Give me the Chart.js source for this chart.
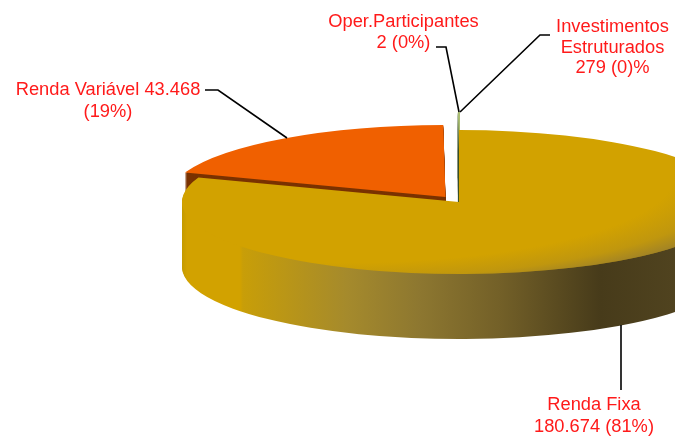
<!DOCTYPE html>
<html>
<head>
<meta charset="utf-8">
<style>
  html, body { margin: 0; padding: 0; background: #fff; overflow: hidden; }
  #wrap { position: relative; width: 675px; height: 437px; }
</style>
<script src="https://cdn.jsdelivr.net/npm/chart.js@4"></script>
</head>
<body>
<div id="wrap"><canvas id="pie" width="675" height="437"></canvas></div>
<script>
// --- DATA ---
const categories = ["Renda Fixa", "Renda Variável", "Oper.Participantes", "Investimentos Estruturados"];
const values = [180674, 43468, 2, 279];
const sliceColors = ["#d2a200", "#f06000", "#8c8c8c", "#a9bc72"];
const sideColors = ["#d2a200", "#7a3200", "#555555", "#3d5528"];
const labelLines = [
  ["Renda Fixa", "180.674 (81%)"],
  ["Renda Variável 43.468", "(19%)"],
  ["Oper.Participantes", "2 (0%)"],
  ["Investimentos", "Estruturados", "279 (0)%"]
];

// --- LAYOUT ---
const CX = 459, CY = 202, RADIUS = 277;
const SQUASH = 72 / 277; // top surface ellipse
const DEPTH = 65;
const explode = [[0, 0], [-13.5, -5], [0, -18], [1, -18]];
const labelPos = [[594, 405, 22], [108, 90, 22], [403.5, 22, 21], [612.5, 27, 20.5]];
const leaders = [
  [[621, 325], [621, 390]],
  [[205, 90], [218, 90], [287, 138]],
  [[436, 47], [446, 47], [459, 112]],
  [[460, 112], [540, 35], [550, 35]]
];

function sideGradient(ctx) {
  const g = ctx.createLinearGradient(182, 0, 675, 0);
  const stops = [[182, "#c49a00"], [187, "#d2a200"], [240, "#d2a200"], [243, "#c89e08"],
    [347, "#a58a2c"], [420, "#8d7730"], [500, "#736028"], [600, "#473b1a"], [675, "#50431f"]];
  stops.forEach(s => g.addColorStop((s[0] - 182) / 493, s[1]));
  return g;
}

function bevelGradient(ctx) {
  // soft shading on the lower right rim of the top surface
  const g = ctx.createRadialGradient(CX - 120, CY - 100, 0, CX - 120, CY - 100, 440);
  g.addColorStop(0, "rgba(120,105,70,0)");
  g.addColorStop(0.76, "rgba(120,105,70,0)");
  g.addColorStop(0.9, "rgba(120,105,70,0.2)");
  g.addColorStop(0.97, "rgba(120,105,70,0.47)");
  g.addColorStop(1, "rgba(120,105,70,0.6)");
  return g;
}

function drawArc(ctx, arc, fill, dx, dy) {
  const saved = arc.options;
  arc.options = { ...saved, backgroundColor: fill };
  ctx.save();
  ctx.translate(CX + dx, CY + dy);
  ctx.scale(1, SQUASH);
  ctx.translate(-CX, -CY);
  arc.draw(ctx);
  ctx.restore();
  arc.options = saved;
}

// --- PLUGINS ---
const pie3d = {
  id: "pie3d",
  beforeDatasetDraw(chart) {
    const ctx = chart.ctx;
    const arcs = chart.getDatasetMeta(0).data;
    // back slices first, the big slice covers their walls
    [2, 3, 1, 0].forEach(i => {
      const [dx, dy] = explode[i];
      const side = i === 0 ? sideGradient(ctx) : sideColors[i];
      for (let k = DEPTH; k > 0; k--) drawArc(ctx, arcs[i], side, dx, dy + k);
      drawArc(ctx, arcs[i], sliceColors[i], dx, dy);
      if (i === 0) drawArc(ctx, arcs[i], bevelGradient(ctx), dx, dy);
    });
    return false;
  },
  afterDraw(chart) {
    const ctx = chart.ctx;
    ctx.save();
    ctx.strokeStyle = "#000";
    ctx.lineWidth = 1.6;
    leaders.forEach(pts => {
      ctx.beginPath();
      pts.forEach((p, i) => (i ? ctx.lineTo(p[0], p[1]) : ctx.moveTo(p[0], p[1])));
      ctx.stroke();
    });
    ctx.fillStyle = "#ff1a1a";
    ctx.font = '18.3px "Liberation Sans"';
    ctx.textAlign = "center";
    ctx.textBaseline = "middle";
    labelLines.forEach((lines, i) => {
      const [x, y, step] = labelPos[i];
      lines.forEach((t, j) => ctx.fillText(t, x, y + j * step));
    });
    ctx.restore();
  }
};

// --- CHART ---
new Chart(document.getElementById("pie"), {
  type: "pie",
  data: {
    labels: categories,
    datasets: [{ data: values, backgroundColor: sliceColors, borderWidth: 0 }]
  },
  options: {
    responsive: false,
    animation: false,
    radius: RADIUS,
    layout: { padding: { left: CX * 2 - 675, bottom: 437 - CY * 2 } },
    plugins: { legend: { display: false }, tooltip: { enabled: false } }
  },
  plugins: [pie3d]
});
</script>
</body>
</html>
